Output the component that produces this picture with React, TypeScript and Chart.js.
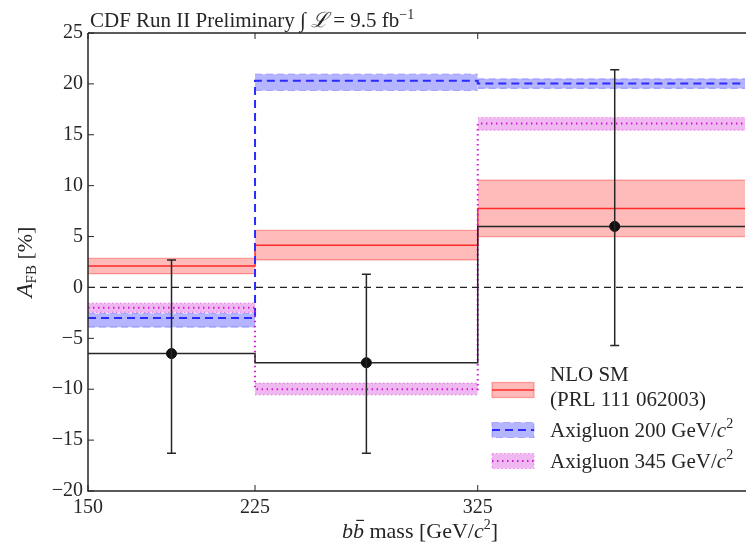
import React, { useEffect, useRef } from "react";
import { Chart, registerables } from "chart.js";

Chart.register(...registerables);

// ---------------- data ----------------
const binEdges = [150, 225, 325, 445];
const xTickValues = [150, 225, 325];
const yTickValues = [-20, -15, -10, -5, 0, 5, 10, 15, 20, 25];

const dataX = [187.5, 275, 386.5];
const dataY = [-6.5, -7.4, 6.0];
const dataErrHigh = [2.7, 1.3, 21.4];
const dataErrLow = [-16.3, -16.3, -5.7];

const nloCentral = [2.1, 4.15, 7.75];
const nloUpper = [2.85, 5.6, 10.55];
const nloLower = [1.35, 2.7, 5.0];

const axi200Central = [-3.0, 20.3, 20.05];
const axi200Upper = [-2.55, 20.95, 20.5];
const axi200Lower = [-3.9, 19.35, 19.55];

const axi345Central = [-2.0, -10.0, 16.1];
const axi345Upper = [-1.55, -9.4, 16.7];
const axi345Lower = [-2.45, -10.55, 15.45];

const zeroLine = [0, 0];

// ---------------- styles ----------------
const FONT = "'Liberation Serif', 'Times New Roman', serif";
const INK = "#262626";

const RED = { line: "#ff2a2a", fill: "rgba(255,0,0,0.27)", edge: "rgba(255,60,60,0.45)", dash: [] as number[], edgeDash: [] as number[] };
const BLUE = { line: "#2b2bff", fill: "rgba(0,0,255,0.29)", edge: "rgba(60,60,255,0.32)", dash: [8, 5], edgeDash: [7, 4] };
const PINK = { line: "#d21ad2", fill: "rgba(200,0,200,0.28)", edge: "rgba(220,60,220,0.5)", dash: [1.5, 3.5], edgeDash: [1.5, 2.5] };

function stepPoints(vals: number[]) {
  return binEdges.map((x, i) => ({ x, y: vals[Math.min(i, vals.length - 1)] }));
}

function bandDatasets(upper: number[], lower: number[], st: typeof RED) {
  const out: any[] = [];
  for (let i = 0; i < upper.length; i++) {
    out.push({
      data: [{ x: binEdges[i], y: upper[i] }, { x: binEdges[i + 1], y: upper[i] }],
      borderColor: st.edge,
      borderWidth: 1.2,
      borderDash: st.edgeDash,
      backgroundColor: st.fill,
      fill: "+1",
      pointRadius: 0,
    });
    out.push({
      data: [{ x: binEdges[i], y: lower[i] }, { x: binEdges[i + 1], y: lower[i] }],
      borderColor: st.edge,
      borderWidth: 1.2,
      borderDash: st.edgeDash,
      fill: false,
      pointRadius: 0,
    });
  }
  return out;
}

type Piece = { t: string; size: number; italic?: boolean; dy?: number; bar?: boolean };

function fontOf(p: Piece) {
  return `${p.italic ? "italic " : ""}${p.size}px ${FONT}`;
}

function drawRich(ctx: CanvasRenderingContext2D, x: number, y: number, pieces: Piece[], align: "left" | "center") {
  const widths = pieces.map((p) => {
    ctx.font = fontOf(p);
    return ctx.measureText(p.t).width;
  });
  const total = widths.reduce((a, b) => a + b, 0);
  let cx = align === "center" ? x - total / 2 : x;
  ctx.textAlign = "left";
  ctx.textBaseline = "alphabetic";
  pieces.forEach((p, i) => {
    ctx.font = fontOf(p);
    ctx.fillText(p.t, cx, y + (p.dy || 0));
    if (p.bar) {
      ctx.save();
      ctx.lineWidth = 1.2;
      ctx.beginPath();
      const by = y + (p.dy || 0) - p.size * 0.8;
      ctx.moveTo(cx + widths[i] * 0.3, by);
      ctx.lineTo(cx + widths[i] * 1.0, by);
      ctx.stroke();
      ctx.restore();
    }
    cx += widths[i];
  });
}

const errorBarPlugin = {
  id: "errorBars",
  afterDatasetsDraw(chart: any) {
    const { ctx } = chart;
    const xs = chart.scales.x;
    const ys = chart.scales.y;
    ctx.save();
    ctx.strokeStyle = INK;
    ctx.lineWidth = 1.5;
    for (let i = 0; i < dataX.length; i++) {
      const px = xs.getPixelForValue(dataX[i]);
      const top = ys.getPixelForValue(dataErrHigh[i]);
      const bot = ys.getPixelForValue(dataErrLow[i]);
      ctx.beginPath();
      ctx.moveTo(px, top);
      ctx.lineTo(px, bot);
      ctx.moveTo(px - 4.5, top);
      ctx.lineTo(px + 4.5, top);
      ctx.moveTo(px - 4.5, bot);
      ctx.lineTo(px + 4.5, bot);
      ctx.stroke();
    }
    ctx.restore();
  },
};

const decorPlugin = {
  id: "decor",
  afterDraw(chart: any) {
    const { ctx, chartArea } = chart;
    const xs = chart.scales.x;
    const ys = chart.scales.y;
    const { left, right, top, bottom } = chartArea;
    ctx.save();
    // axes frame
    ctx.strokeStyle = INK;
    ctx.lineWidth = 1.5;
    ctx.beginPath();
    ctx.moveTo(left, top);
    ctx.lineTo(right + 10, top);
    ctx.moveTo(left, top);
    ctx.lineTo(left, bottom);
    ctx.lineTo(right + 10, bottom);
    ctx.stroke();
    // inward ticks
    ctx.lineWidth = 1;
    ctx.beginPath();
    yTickValues.forEach((v) => {
      const py = ys.getPixelForValue(v);
      ctx.moveTo(left, py);
      ctx.lineTo(left + 6, py);
    });
    xTickValues.forEach((v) => {
      const px = xs.getPixelForValue(v);
      ctx.moveTo(px, bottom);
      ctx.lineTo(px, bottom - 6);
      ctx.moveTo(px, top);
      ctx.lineTo(px, top + 6);
    });
    ctx.stroke();

    ctx.fillStyle = INK;
    ctx.strokeStyle = INK;
    // title
    drawRich(ctx, 90, 27, [
      { t: "CDF Run II Preliminary ", size: 21 },
      { t: "∫", size: 21, italic: true },
      { t: " ℒ", size: 21, italic: true },
      { t: " = 9.5 fb", size: 21 },
      { t: "−1", size: 14, dy: -8 },
    ], "left");

    // x title
    drawRich(ctx, 420, 538, [
      { t: "b", size: 22, italic: true },
      { t: "b", size: 22, italic: true, bar: true },
      { t: " mass [GeV/", size: 22 },
      { t: "c", size: 22, italic: true },
      { t: "2", size: 14, dy: -9 },
      { t: "]", size: 22 },
    ], "center");

    // y title
    ctx.save();
    ctx.translate(32, (top + bottom) / 2);
    ctx.rotate(-Math.PI / 2);
    drawRich(ctx, 0, 0, [
      { t: "A", size: 23, italic: true },
      { t: "FB", size: 15, dy: 4 },
      { t: " [%]", size: 22 },
    ], "center");
    ctx.restore();

    // legend
    const mx0 = 492;
    const mx1 = 534;
    const tx = 550;
    const entries = [
      { st: RED, cy: 390, lines: [[{ t: "NLO SM", size: 21 }], [{ t: "(PRL 111 062003)", size: 21 }]], base: [381, 406], dash: [] as number[] },
      { st: BLUE, cy: 430, lines: [[{ t: "Axigluon 200 GeV/", size: 21 }, { t: "c", size: 21, italic: true }, { t: "2", size: 14, dy: -9 }]], base: [437], dash: BLUE.dash },
      { st: PINK, cy: 461, lines: [[{ t: "Axigluon 345 GeV/", size: 21 }, { t: "c", size: 21, italic: true }, { t: "2", size: 14, dy: -9 }]], base: [468], dash: PINK.dash },
    ];
    entries.forEach((e) => {
      const h = 15;
      ctx.save();
      ctx.fillStyle = e.st.fill;
      ctx.fillRect(mx0, e.cy - h / 2, mx1 - mx0, h);
      ctx.strokeStyle = e.st.edge;
      ctx.lineWidth = 1.2;
      ctx.setLineDash(e.st.edgeDash);
      ctx.strokeRect(mx0, e.cy - h / 2, mx1 - mx0, h);
      ctx.strokeStyle = e.st.line;
      ctx.lineWidth = e.st === RED ? 1.5 : 2;
      ctx.setLineDash(e.dash);
      ctx.beginPath();
      ctx.moveTo(mx0, e.cy);
      ctx.lineTo(mx1, e.cy);
      ctx.stroke();
      ctx.restore();
      ctx.fillStyle = INK;
      e.lines.forEach((ln: any, k: number) => drawRich(ctx, tx, e.base[k], ln, "left"));
    });
    ctx.restore();
  },
};

export default function App() {
  const ref = useRef<HTMLCanvasElement | null>(null);
  useEffect(() => {
    if (!ref.current) return;
    const datasets: any[] = [
      {
        data: dataX.map((x, i) => ({ x, y: dataY[i] })),
        showLine: false,
        pointRadius: 5,
        pointBackgroundColor: "#111",
        pointBorderColor: "#111",
        borderColor: "#111",
      },
      {
        data: stepPoints(dataY),
        stepped: true,
        borderColor: INK,
        borderWidth: 1.5,
        pointRadius: 0,
        fill: false,
      },
      {
        data: [{ x: binEdges[0], y: zeroLine[0] }, { x: binEdges[binEdges.length - 1], y: zeroLine[1] }],
        borderColor: "#222",
        borderWidth: 1.3,
        borderDash: [7, 5],
        pointRadius: 0,
        fill: false,
      },
      {
        data: stepPoints(axi345Central),
        stepped: true,
        borderColor: PINK.line,
        borderWidth: 2,
        borderDash: PINK.dash,
        pointRadius: 0,
        fill: false,
      },
      {
        data: stepPoints(axi200Central),
        stepped: true,
        borderColor: BLUE.line,
        borderWidth: 2,
        borderDash: BLUE.dash,
        pointRadius: 0,
        fill: false,
      },
      {
        data: stepPoints(nloCentral),
        stepped: true,
        borderColor: RED.line,
        borderWidth: 1.5,
        pointRadius: 0,
        fill: false,
      },
      ...bandDatasets(axi345Upper, axi345Lower, PINK),
      ...bandDatasets(axi200Upper, axi200Lower, BLUE),
      ...bandDatasets(nloUpper, nloLower, RED),
    ];

    const chart = new Chart(ref.current, {
      type: "line",
      data: { datasets },
      options: {
        animation: false,
        responsive: false,
        layout: { padding: { top: 33, right: 0, left: 0, bottom: 0 } },
        plugins: { legend: { display: false }, tooltip: { enabled: false } },
        scales: {
          x: {
            type: "linear",
            min: binEdges[0],
            max: binEdges[binEdges.length - 1],
            grid: { display: false, drawTicks: false },
            border: { display: false },
            afterBuildTicks: (s: any) => {
              s.ticks = xTickValues.map((v) => ({ value: v }));
            },
            afterFit: (s: any) => {
              s.height = 55;
            },
            ticks: {
              autoSkip: false,
              maxRotation: 0,
              padding: 5,
              color: INK,
              font: { family: FONT, size: 20 },
              callback: (v: any) => String(v),
            },
          },
          y: {
            type: "linear",
            min: yTickValues[0],
            max: yTickValues[yTickValues.length - 1],
            grid: { display: false, drawTicks: false },
            border: { display: false },
            afterBuildTicks: (s: any) => {
              s.ticks = yTickValues.map((v) => ({ value: v }));
            },
            afterFit: (s: any) => {
              s.width = 88;
            },
            ticks: {
              padding: 5,
              color: INK,
              font: { family: FONT, size: 20 },
              callback: (v: any) => (v < 0 ? "−" + Math.abs(v) : String(v)),
            },
          },
        },
      },
      plugins: [errorBarPlugin, decorPlugin],
    });
    return () => chart.destroy();
  }, []);

  return (
    <div style={{ position: "absolute", left: 0, top: 0, width: 746, height: 546, overflow: "hidden", background: "#fff" }}>
      <canvas ref={ref} width={751} height={546} style={{ display: "block" }} />
    </div>
  );
}
